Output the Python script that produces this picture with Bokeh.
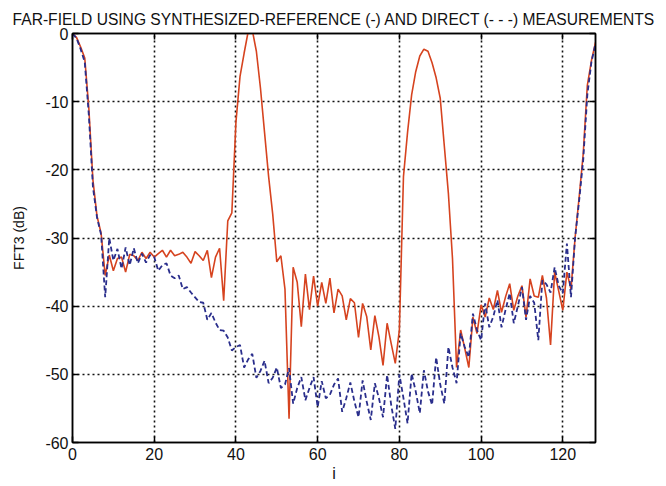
from bokeh.plotting import figure
from bokeh.models import LinearAxis, FixedTicker, Range1d
from bokeh.embed import file_html
from bokeh.resources import INLINE

# Sample index and the two far-field patterns (dB)
i_index = list(range(129))

synth_ref_db = [
    0.0, -0.6, -2.0, -3.6, -11.0, -21.5, -26.8, -29.3, -35.5, -32.5,
    -34.8, -33.0, -32.8, -35.0, -32.4, -32.6, -33.3, -32.1, -33.0, -32.1,
    -32.8, -32.3, -31.8, -32.8, -31.8, -32.6, -32.4, -32.1, -32.8, -33.7,
    -32.0, -32.6, -33.3, -31.8, -35.8, -32.8, -31.5, -39.2, -27.5, -26.3,
    -13.0, -6.3, -2.9, 0.3, 0.5, -2.6, -8.0, -14.5, -21.0, -26.5,
    -33.5, -32.6, -37.5, -56.5, -34.3, -36.5, -43.0, -35.3, -40.5, -35.6,
    -40.0, -36.5, -39.6, -35.9, -41.0, -37.5, -38.5, -42.0, -38.9, -39.5,
    -44.6, -39.6, -41.5, -46.4, -41.4, -44.5, -48.7, -42.5, -45.5, -48.4,
    -43.5, -21.0, -14.5, -9.0, -5.6, -3.3, -2.3, -2.6, -4.3, -6.5,
    -9.5, -16.5, -23.5, -33.0, -49.0, -43.5, -46.2, -49.0, -41.6, -44.0,
    -39.8, -41.6, -38.8, -40.5, -37.7, -40.9, -38.6, -36.7, -40.6, -38.5,
    -37.0, -41.6, -36.0, -38.5, -38.7, -35.5, -38.8, -45.7, -35.0, -37.8,
    -40.6, -35.0, -37.5, -30.0, -24.0, -17.6, -7.6, -4.0, -1.3,
]

direct_db = [
    0.0, -0.7, -2.3, -4.2, -12.0, -22.5, -27.0, -29.5, -38.7, -30.0,
    -33.3, -31.6, -34.5, -31.4, -34.0, -31.5, -33.7, -32.3, -33.6, -32.5,
    -32.8, -34.8, -34.0, -33.7, -35.5, -35.9, -35.5, -37.5, -37.2, -38.0,
    -38.7, -39.4, -39.5, -42.0, -41.0, -42.4, -43.5, -43.6, -44.6, -46.5,
    -46.0, -45.7, -49.0, -47.8, -47.0, -50.5, -49.5, -48.0, -51.3, -50.5,
    -49.0, -52.0, -51.5, -49.1, -54.3, -52.0, -50.4, -53.8, -52.0, -50.4,
    -54.8, -51.0, -53.5, -53.0, -51.5, -50.6, -55.5, -53.5, -51.2, -54.0,
    -56.3, -50.9, -54.0, -56.7, -51.3, -53.5, -56.3, -50.1, -54.5, -58.0,
    -50.0, -53.5, -57.2, -49.9, -52.5, -55.7, -49.4, -52.5, -54.5, -47.5,
    -51.5, -54.3, -46.0, -49.0, -51.3, -44.0, -46.0, -47.5, -41.1, -43.5,
    -45.0, -39.6, -43.1, -41.5, -39.1, -43.1, -40.5, -38.1, -42.5, -40.0,
    -37.2, -42.0, -38.5, -39.5, -45.0, -36.2, -36.8, -38.0, -34.3, -37.0,
    -38.1, -30.8, -38.7, -30.0, -24.5, -18.5, -9.0, -4.2, -1.5,
]

x_ticks = [0, 20, 40, 60, 80, 100, 120]
y_ticks = [-60, -50, -40, -30, -20, -10, 0]
y_tick_labels = ["-60", "-50", "-40", "-30", "-20", "-10", "0"]

FONT = "Liberation Sans"

p = figure(
    width=666, height=486,
    output_backend="svg", toolbar_location=None,
    x_range=Range1d(0, 128), y_range=Range1d(-60, 0),
    min_border_left=72, min_border_right=71,
    min_border_top=33, min_border_bottom=44,
    x_axis_label="i", y_axis_label="FFT3 (dB)",
    title="FAR-FIELD USING SYNTHESIZED-REFERENCE (-) AND DIRECT (- - -) MEASUREMENTS",
)
p.background_fill_color = "white"
p.border_fill_color = "white"
p.outline_line_color = "black"
p.outline_line_width = 1.5

p.title.text_font = FONT
p.title.text_font_size = "15.6px"
p.title.text_font_style = "normal"
p.title.text_color = "#111111"
p.title.align = "center"
p.title.standoff = 12

# Mirror axes on top and right (ticks only), like a boxed plot
p.add_layout(LinearAxis(), "right")
p.add_layout(LinearAxis(), "above")

for ax in p.axis:
    ax.axis_line_color = "black"
    ax.axis_line_width = 1.5
    ax.major_tick_in = 6
    ax.major_tick_out = 0
    ax.major_tick_line_width = 1.5
    ax.minor_tick_in = 0
    ax.minor_tick_out = 0
    ax.major_label_text_font = FONT
    ax.major_label_text_font_size = "16px"
    ax.major_label_text_color = "#111111"
    ax.axis_label_text_font = FONT
    ax.axis_label_text_font_style = "normal"
    ax.axis_label_text_color = "#111111"

for ax in p.xaxis:
    ax.ticker = FixedTicker(ticks=x_ticks)
for ax in p.yaxis:
    ax.ticker = FixedTicker(ticks=y_ticks)
    ax.major_label_overrides = {t: s for t, s in zip(y_ticks, y_tick_labels)}

# hide labels on the mirrored axes
for ax in (p.right[0], p.above[-1]):
    ax.major_label_text_alpha = 0
    ax.major_label_text_font_size = "1px"
    ax.major_label_standoff = 0

p.below[0].major_label_standoff = 5
p.below[0].axis_label_standoff = 2
p.below[0].axis_label_text_font_size = "16px"
p.left[0].major_label_standoff = 4
p.left[0].axis_label_standoff = 15
p.left[0].axis_label_text_font_size = "14px"

for g in (p.xgrid[0], p.ygrid[0]):
    g.grid_line_color = "#111111"
    g.grid_line_width = 1.6
    g.grid_line_dash = "2 3"
p.xgrid[0].ticker = FixedTicker(ticks=x_ticks)
p.ygrid[0].ticker = FixedTicker(ticks=y_ticks)

# synthesized-reference (solid) then direct (dashed) on top
p.line(i_index, synth_ref_db, line_color="#d6431f", line_width=1.6)
p.line(i_index, direct_db, line_color="#2a2e8c", line_width=1.8, line_dash="5 3")

open("out.html", "w").write(file_html(p, INLINE))
